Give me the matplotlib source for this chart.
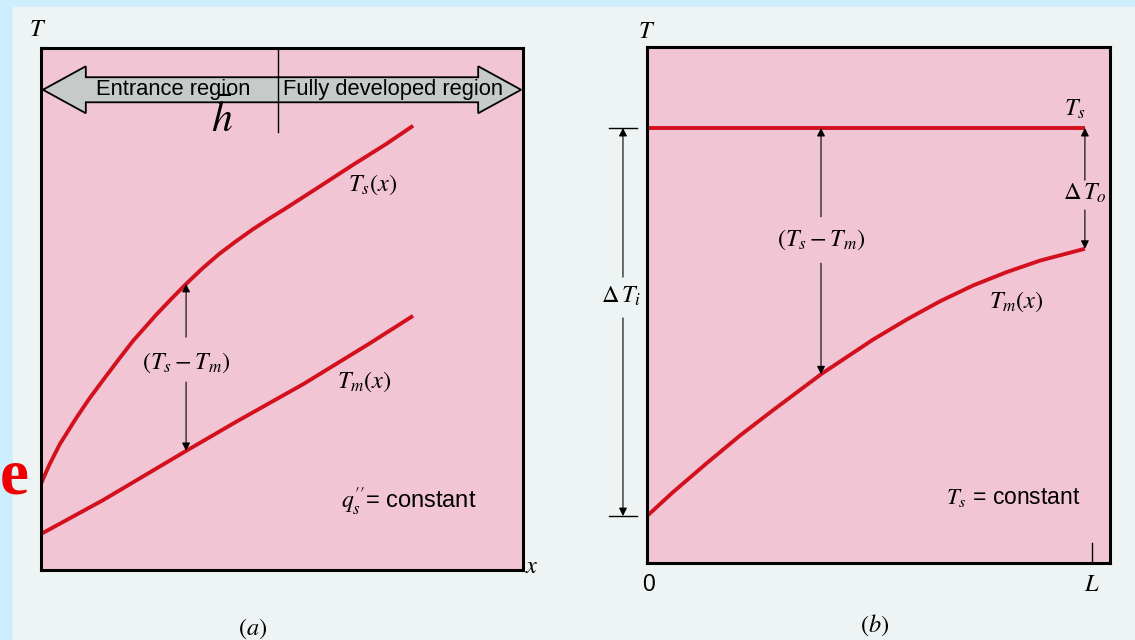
import numpy as np
import matplotlib.pyplot as plt
from matplotlib.patches import Polygon, Rectangle

plt.rcParams["font.family"] = ["Liberation Sans", "DejaVu Sans"]
plt.rcParams["mathtext.fontset"] = "stix"

# (a) uniform surface heat flux: surface and mean temperature along x
ts_a_x = [0.0, 0.17, 0.39, 0.73, 1.00, 1.29, 1.60, 1.91, 2.39, 2.70, 3.01, 3.34,
          3.69, 4.05, 4.40, 4.75, 5.08, 5.77, 6.47, 7.16, 7.72]
ts_a_T = [1.65, 2.01, 2.41, 2.91, 3.28, 3.64, 4.02, 4.39, 4.89, 5.19, 5.48, 5.77,
          6.05, 6.30, 6.53, 6.74, 6.93, 7.34, 7.76, 8.16, 8.51]
tm_a_x = [0.0, 1.29, 2.97, 4.05, 5.44, 6.80, 7.72]
tm_a_T = [0.69, 1.34, 2.26, 2.84, 3.56, 4.33, 4.87]
x_dev = 4.92      # start of fully developed region
x_gap_a = 3.01    # where (Ts - Tm) is marked

# (b) constant surface temperature, x in units of L
ts_b = 8.43
tm_b_x = [0.0, 0.058, 0.135, 0.209, 0.283, 0.393, 0.508, 0.584, 0.658, 0.733, 0.809, 0.883, 0.984]
tm_b_T = [0.91, 1.37, 1.94, 2.47, 2.96, 3.67, 4.33, 4.72, 5.07, 5.38, 5.64, 5.86, 6.09]
x_gap_b = 0.391

blue = "#CCEEFF"
page = "#EEF4F3"
pink = "#F1C5D3"
red = "#D3111E"

fig = plt.figure(figsize=(11.35, 6.4), dpi=100)
fig.patch.set_facecolor(blue)
fig.add_artist(Rectangle((13 / 1135, 0), 1, 633 / 640, transform=fig.transFigure,
                         color=page, zorder=0))

ax_a = fig.add_axes([41 / 1135, 70 / 640, 482 / 1135, 522 / 640])
ax_b = fig.add_axes([647 / 1135, 77 / 640, 463 / 1135, 516 / 640])
for ax in (ax_a, ax_b):
    ax.set_facecolor(pink)
    ax.set_xticks([])
    ax.set_yticks([])
    for s in ax.spines.values():
        s.set_linewidth(2.2)
ax_a.set_xlim(0, 10)
ax_a.set_ylim(0, 10)
ax_b.set_xlim(0, 1.0404)
ax_b.set_ylim(0, 10)

mt = dict(fontsize=17.5, color="black")
arr = dict(arrowstyle="-|>", mutation_scale=12, lw=0.8, color="black",
           shrinkA=0, shrinkB=0)


def gap_arrow(ax, x, lo, hi, y_lo, y_hi):
    # two arrows leaving a gap for the label
    ax.annotate("", xy=(x, hi), xytext=(x, y_hi), arrowprops=arr,
                annotation_clip=False)
    ax.annotate("", xy=(x, lo), xytext=(x, y_lo), arrowprops=arr,
                annotation_clip=False)


# ---- panel (a)
ax_a.plot(ts_a_x, ts_a_T, color=red, lw=2.8, solid_capstyle="butt",
          solid_joinstyle="round")
ax_a.plot(tm_a_x, tm_a_T, color=red, lw=2.8, solid_capstyle="butt",
          solid_joinstyle="round")

x0, x1, yc, sh, hh, hl = 0.04, 9.96, 9.20, 0.24, 0.45, 0.89
pts = [(x0, yc), (x0 + hl, yc + hh), (x0 + hl, yc + sh), (x1 - hl, yc + sh),
       (x1 - hl, yc + hh), (x1, yc), (x1 - hl, yc - hh), (x1 - hl, yc - sh),
       (x0 + hl, yc - sh), (x0 + hl, yc - hh)]
ax_a.add_patch(Polygon(pts, closed=True, facecolor="#C6CBC9", edgecolor="black",
                       lw=1.3, zorder=3))
ax_a.plot([x_dev, x_dev], [8.39, 10], color="black", lw=1.0, zorder=4)
ax_a.text(2.74, yc, "Entrance region", fontsize=15.8, ha="center", va="center", zorder=5)
ax_a.text(7.30, yc, "Fully developed region", fontsize=15.8, ha="center", va="center",
          zorder=5)
ax_a.text(3.76, 8.62, r"$\bar{h}$", fontsize=30, ha="center", va="center", zorder=5)

ts_gap = np.interp(x_gap_a, ts_a_x, ts_a_T)
tm_gap = np.interp(x_gap_a, tm_a_x, tm_a_T)
gap_arrow(ax_a, x_gap_a, tm_gap, ts_gap, 3.60, 4.46)
ax_a.text(x_gap_a, 3.97, r"$(T_s - T_m)$", ha="center", va="center", **mt)
ax_a.text(6.87, 7.38, r"$T_s(x)$", ha="center", va="center", **mt)
ax_a.text(6.70, 3.60, r"$T_m(x)$", ha="center", va="center", **mt)
ax_a.text(7.63, 1.30, r"$q_s^{\prime\prime}$= constant", ha="center", va="center",
          fontsize=17)
ax_a.text(10.18, 0.05, r"$x$", ha="center", va="center", **mt)
ax_a.text(-0.07, 10.35, r"$T$", ha="center", va="center", **mt)
ax_a.text(4.4, -1.13, r"$(a)$", ha="center", va="center", **mt)

# ---- panel (b)
ax_b.plot([0, tm_b_x[-1]], [ts_b, ts_b], color=red, lw=2.8, solid_capstyle="butt")
ax_b.plot(tm_b_x, tm_b_T, color=red, lw=2.8, solid_capstyle="butt",
          solid_joinstyle="round")

tm_at = np.interp(x_gap_b, tm_b_x, tm_b_T)
gap_arrow(ax_b, x_gap_b, tm_at, ts_b, 5.81, 6.71)
ax_b.text(x_gap_b, 6.26, r"$(T_s - T_m)$", ha="center", va="center", **mt)

x_o = tm_b_x[-1]
gap_arrow(ax_b, x_o, tm_b_T[-1], ts_b, 6.84, 7.42)
ax_b.text(x_o, 7.17, r"$\Delta\, T_o$", ha="center", va="center", **mt)

x_i = -0.054
gap_arrow(ax_b, x_i, tm_b_T[0], ts_b, 4.75, 5.54)
for yb in (ts_b, tm_b_T[0]):
    ax_b.plot([-0.085, -0.022], [yb, yb], color="black", lw=1.0, clip_on=False)
ax_b.text(x_i - 0.005, 5.16, r"$\Delta\, T_i$", ha="center", va="center", **mt)

ax_b.text(0.962, 8.80, r"$T_s$", ha="center", va="center", **mt)
ax_b.text(0.831, 5.06, r"$T_m(x)$", ha="center", va="center", **mt)
ax_b.text(0.822, 1.26, r"$T_s$ = constant", ha="center", va="center", fontsize=16.5)
ax_b.plot([1.0, 1.0], [0, 0.39], color="black", lw=1.0)
ax_b.text(0.004, -0.42, "0", ha="center", va="center", fontsize=16.5)
ax_b.text(1.0, -0.42, r"$L$", ha="center", va="center", **mt)
ax_b.text(0.0, 10.3, r"$T$", ha="center", va="center", **mt)
ax_b.text(0.512, -1.2, r"$(b)$", ha="center", va="center", **mt)

fig.text(14 / 1135, 147 / 640, "e", color="#EE0000", fontsize=47, fontweight="bold",
         family="Liberation Serif", ha="center", va="baseline")

fig.savefig("out.png", dpi=100, facecolor=fig.get_facecolor())
